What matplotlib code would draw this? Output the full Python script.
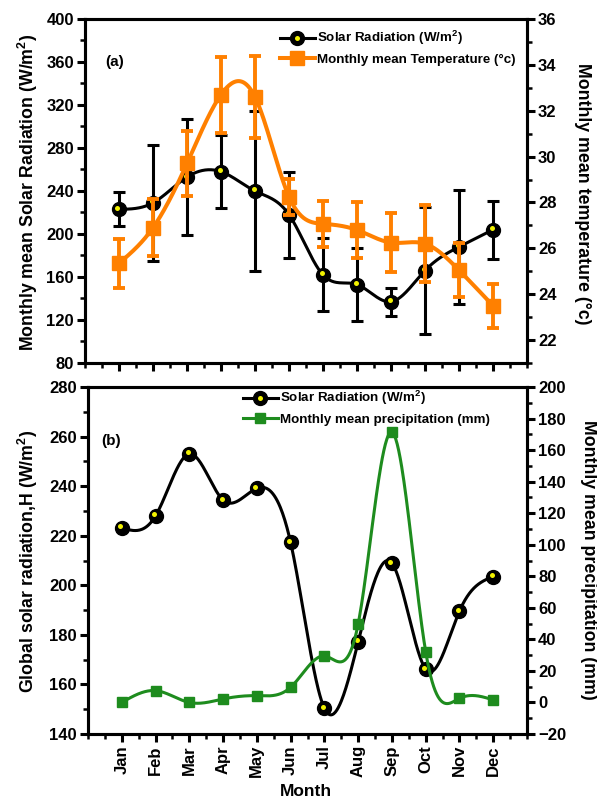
import numpy as np
import matplotlib
matplotlib.use("Agg")
import matplotlib.pyplot as plt
from matplotlib import transforms
from matplotlib.ticker import MultipleLocator, FixedLocator
from matplotlib.lines import Line2D
from matplotlib.legend_handler import HandlerTuple

plt.rcParams['font.family'] = ['Liberation Sans', 'DejaVu Sans']
plt.rcParams['font.weight'] = 'bold'
plt.rcParams['mathtext.fontset'] = 'custom'
plt.rcParams['mathtext.rm'] = 'Liberation Sans:bold'
plt.rcParams['mathtext.it'] = 'Liberation Sans:bold'
plt.rcParams['mathtext.bf'] = 'Liberation Sans:bold'
plt.rcParams['mathtext.default'] = 'rm'

# ---- data ----
months = ["Jan", "Feb", "Mar", "Apr", "May", "Jun",
          "Jul", "Aug", "Sep", "Oct", "Nov", "Dec"]
month_pos = np.arange(1, 13)

# panel (a): monthly mean solar radiation (W/m^2) with spread, and temperature (deg C)
solar_mean = [223, 229, 253, 258, 240, 218, 162, 153, 137, 166, 188, 204]
solar_err = [16, 54, 54, 34, 74, 40, 34, 34, 13, 59, 53, 27]
temp_mean = [25.35, 26.9, 29.7, 32.7, 32.6, 28.25, 27.07, 26.8, 26.25, 26.2, 25.05, 23.5]
temp_err = [1.07, 1.25, 1.4, 1.65, 1.8, 0.78, 1.0, 1.2, 1.27, 1.67, 1.18, 0.96]

# panel (b): global solar radiation H (W/m^2) and precipitation (mm)
solar_global = [223.2, 228.0, 253.0, 234.4, 239.1, 217.3,
                150.4, 177.2, 208.9, 166.2, 189.6, 203.5]
precip = [0.0, 7.5, 0.0, 2.2, 4.3, 9.6, 29.5, 49.8, 171.3, 32.2, 2.6, 1.6]

BLACK = "black"
YELLOW = "#F2F200"
ORANGE = "#FF8000"
GREEN = "#1E8C1E"

TICK_FS = 12
LABEL_FS = 12.8
LEGEND_FS = 9.6


def natural_spline(x, y, n=500):
    """Smooth natural cubic spline through (x, y) for drawing the connecting curve."""
    x = np.asarray(x, float)
    y = np.asarray(y, float)
    m = len(x)
    h = np.diff(x)
    A = np.zeros((m, m))
    r = np.zeros(m)
    A[0, 0] = A[-1, -1] = 1.0
    for i in range(1, m - 1):
        A[i, i - 1] = h[i - 1]
        A[i, i] = 2 * (h[i - 1] + h[i])
        A[i, i + 1] = h[i]
        r[i] = 3 * ((y[i + 1] - y[i]) / h[i] - (y[i] - y[i - 1]) / h[i - 1])
    c = np.linalg.solve(A, r)
    b = (y[1:] - y[:-1]) / h - h * (2 * c[:-1] + c[1:]) / 3
    d = (c[1:] - c[:-1]) / (3 * h)
    xs = np.linspace(x[0], x[-1], n)
    idx = np.clip(np.searchsorted(x, xs, side="right") - 1, 0, m - 2)
    t = xs - x[idx]
    ys = y[idx] + b[idx] * t + c[idx] * t ** 2 + d[idx] * t ** 3
    return xs, ys


fig = plt.figure(figsize=(5.97, 8.02), dpi=100)
W, H = 597.0, 802.0


def px_axes(left, top, right, bottom):
    return fig.add_axes([left / W, 1 - bottom / H, (right - left) / W, (bottom - top) / H])


def style_axis(ax, right=False):
    for s in ax.spines.values():
        s.set_linewidth(2.2)
    ax.tick_params(which="major", direction="out", length=6, width=2.2,
                   labelsize=TICK_FS, pad=2)
    ax.tick_params(which="minor", direction="out", length=3.5, width=1.8)
    ax.tick_params(axis="x", which="both", top=False)
    if right:
        ax.tick_params(axis="y", which="both", left=False, right=True)
    else:
        ax.tick_params(axis="y", which="both", right=False)
    for lab in ax.get_xticklabels() + ax.get_yticklabels():
        lab.set_fontweight("bold")


def sphere_points(ax, x, y, size=10):
    ax.plot(x, y, "o", color=BLACK, ms=size, zorder=4)
    off = transforms.offset_copy(ax.transData, fig=fig, x=-1.5, y=1.5, units="dots")
    ax.plot(x, y, "o", color=YELLOW, ms=size * 0.36, mec="none", transform=off, zorder=5)


sphere_handle = (Line2D([], [], color=BLACK, lw=2.2, marker="o", ms=10),
                 Line2D([], [], color=YELLOW, lw=0, marker="o", ms=3.6, mec="none"))

# ---------------- panel (a) ----------------
ax1 = px_axes(85, 19, 527, 363)
ax2 = ax1.twinx()

xs, ys = natural_spline(month_pos, solar_mean)
ax1.plot(xs, ys, color=BLACK, lw=2.2, zorder=3)
ax1.errorbar(month_pos, solar_mean, yerr=solar_err, fmt="none", ecolor=BLACK,
             elinewidth=2.2, capsize=4.5, capthick=2.2, zorder=3)
sphere_points(ax1, month_pos, solar_mean)

xs, ys = natural_spline(month_pos, temp_mean)
ax2.plot(xs, ys, color=ORANGE, lw=2.9, zorder=3)
ax2.errorbar(month_pos, temp_mean, yerr=temp_err, fmt="s", color=ORANGE, ms=9.5,
             ecolor=ORANGE, elinewidth=2.8, capsize=4.5, capthick=2.8, zorder=4)

ax1.set_xlim(0, 13)
ax1.set_ylim(80, 400)
ax2.set_ylim(21, 36)
ax1.xaxis.set_major_locator(FixedLocator(month_pos))
ax1.xaxis.set_minor_locator(MultipleLocator(0.5))
ax1.set_xticklabels([])
ax1.yaxis.set_major_locator(MultipleLocator(40))
ax1.yaxis.set_minor_locator(MultipleLocator(20))
ax2.yaxis.set_major_locator(FixedLocator([22, 24, 26, 28, 30, 32, 34, 36]))
ax2.yaxis.set_minor_locator(MultipleLocator(1))
style_axis(ax1)
style_axis(ax2, right=True)
ax2.tick_params(axis="x", which="both", bottom=False)

ax1.text(0.045, 0.875, "(a)", transform=ax1.transAxes, fontsize=11,
         fontweight="bold", ha="left", va="center")

temp_handle = Line2D([], [], color=ORANGE, lw=2.9, marker="s", ms=9.5)
fig.legend([sphere_handle, temp_handle],
           [r"Solar Radiation (W/m$^{2}$)", "Monthly mean Temperature (°c)"],
           handler_map={tuple: HandlerTuple(ndivide=1, pad=0)},
           loc="upper left", bbox_to_anchor=(280 / W, 1 - 29 / H),
           frameon=False, handlelength=2.6, handletextpad=0.15,
           labelspacing=0.45, borderpad=0, borderaxespad=0,
           prop={"weight": "bold", "size": LEGEND_FS})

fig.text(28 / W, 1 - 192 / H, r"Monthly mean Solar Radiation (W/m$^{2}$)",
         rotation=90, ha="center", va="center", fontsize=LABEL_FS, fontweight="bold")
fig.text(583 / W, 1 - 194 / H, "Monthly mean temperature (°c)",
         rotation=270, ha="center", va="center", fontsize=LABEL_FS, fontweight="bold")

# ---------------- panel (b) ----------------
ax3 = px_axes(88, 387, 527, 734)
ax4 = ax3.twinx()

xs, ys = natural_spline(month_pos, solar_global)
ax3.plot(xs, ys, color=BLACK, lw=2.2, zorder=3)
sphere_points(ax3, month_pos, solar_global)

xs, ys = natural_spline(month_pos, precip)
ax4.plot(xs, ys, color=GREEN, lw=2.2, zorder=3)
ax4.plot(month_pos, precip, "s", color=GREEN, ms=7.5, zorder=4)

ax3.set_xlim(0, 13)
ax3.set_ylim(140, 280)
ax4.set_ylim(-20, 200)
ax3.xaxis.set_major_locator(FixedLocator(month_pos))
ax3.xaxis.set_minor_locator(MultipleLocator(0.5))
ax3.set_xticklabels(months, rotation=90)
ax3.yaxis.set_major_locator(MultipleLocator(20))
ax3.yaxis.set_minor_locator(MultipleLocator(10))
ax4.yaxis.set_major_locator(MultipleLocator(20))
ax4.yaxis.set_minor_locator(MultipleLocator(10))
style_axis(ax3)
style_axis(ax4, right=True)
ax4.tick_params(axis="x", which="both", bottom=False)

ax3.text(0.03, 0.845, "(b)", transform=ax3.transAxes, fontsize=11,
         fontweight="bold", ha="left", va="center")

precip_handle = Line2D([], [], color=GREEN, lw=2.2, marker="s", ms=7.5)
fig.legend([sphere_handle, precip_handle],
           [r"Solar Radiation (W/m$^{2}$)", "Monthly mean precipitation (mm)"],
           handler_map={tuple: HandlerTuple(ndivide=1, pad=0)},
           loc="upper left", bbox_to_anchor=(243 / W, 1 - 389 / H),
           frameon=False, handlelength=2.6, handletextpad=0.15,
           labelspacing=0.45, borderpad=0, borderaxespad=0,
           prop={"weight": "bold", "size": LEGEND_FS})

fig.text(28 / W, 1 - 561 / H, r"Global solar radiation,H (W/m$^{2}$)",
         rotation=90, ha="center", va="center", fontsize=LABEL_FS, fontweight="bold")
fig.text(588 / W, 1 - 560 / H, "Monthly mean precipitation (mm)",
         rotation=270, ha="center", va="center", fontsize=LABEL_FS, fontweight="bold")
fig.text(306 / W, 1 - 792 / H, "Month", ha="center", va="center",
         fontsize=12.5, fontweight="bold")

fig.savefig("out.png", dpi=100)
